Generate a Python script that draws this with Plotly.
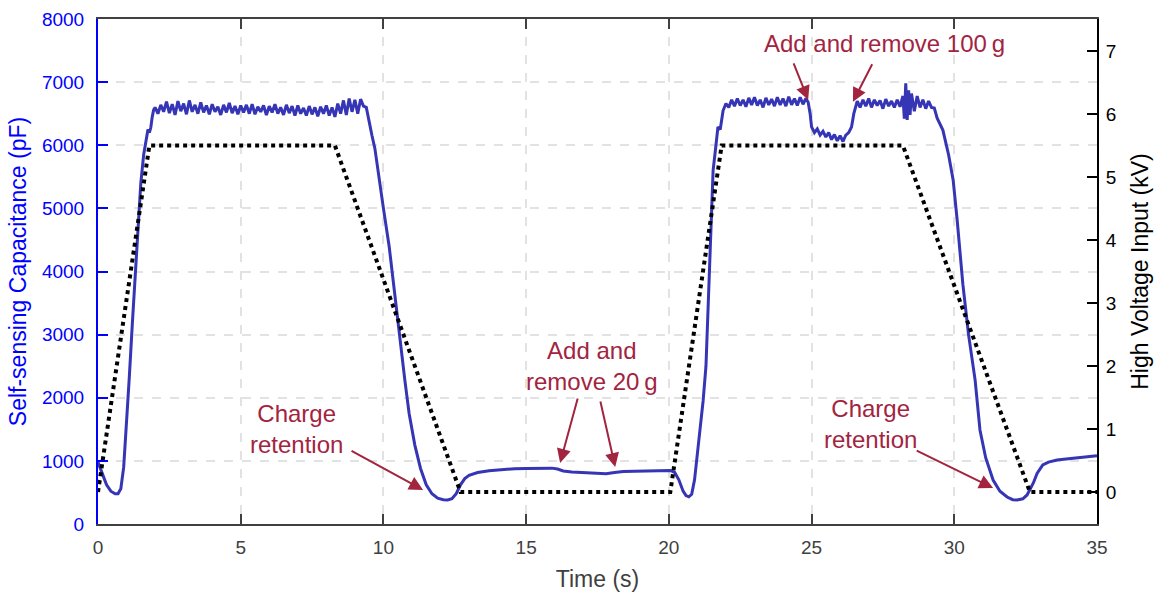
import plotly.graph_objects as go

# ---------------- data ----------------
time_cap = [0.0, 0.15, 0.3, 0.45, 0.6, 0.7, 0.8, 0.9, 1.0, 1.1, 1.2, 1.3, 1.4, 1.5, 1.6, 1.7, 1.75, 1.8, 1.85, 1.9, 1.95,
            2.0, 2.1, 2.2, 2.3, 2.4, 2.5, 2.6, 2.7, 2.8, 2.9, 3.0, 3.1, 3.2, 3.3, 3.4, 3.5, 3.6, 3.7, 3.8, 3.9,
            4.0, 4.1, 4.2, 4.3, 4.4, 4.5, 4.6, 4.7, 4.8, 4.9, 5.0, 5.1, 5.2, 5.3, 5.4, 5.5, 5.6, 5.7, 5.8, 5.9,
            6.0, 6.1, 6.2, 6.3, 6.4, 6.5, 6.6, 6.7, 6.8, 6.9, 7.0, 7.1, 7.2, 7.3, 7.4, 7.5, 7.6, 7.7, 7.8, 7.9,
            8.0, 8.1, 8.2, 8.3, 8.4, 8.5, 8.6, 8.7, 8.8, 8.9, 9.0, 9.1, 9.2, 9.3, 9.4,
            9.5, 9.6, 9.7, 9.8, 9.9, 10.0, 10.2, 10.4, 10.6, 10.75, 10.9, 11.1, 11.3, 11.5, 11.7, 11.9, 12.1, 12.25,
            12.4, 12.55, 12.7, 12.85, 13.0, 13.3, 13.7, 14.2, 14.6, 15.0, 15.5, 15.9, 16.1, 16.3, 16.6, 17.0, 17.5,
            17.8, 18.1, 18.4, 18.8, 19.3, 19.8, 20.05, 20.2, 20.35, 20.5, 20.6, 20.7, 20.8, 20.9, 21.0, 21.1, 21.2,
            21.3, 21.4, 21.5, 21.55, 21.65, 21.72, 21.8, 21.9, 22.0,
            22.1, 22.2, 22.3, 22.4, 22.5, 22.6, 22.7, 22.8, 22.9, 23.0, 23.1, 23.2, 23.3, 23.4, 23.5, 23.6, 23.7,
            23.8, 23.9, 24.0, 24.1, 24.2, 24.3, 24.4, 24.5, 24.6, 24.7, 24.8, 24.88, 24.95,
            25.0, 25.1, 25.2, 25.3, 25.4, 25.5, 25.6, 25.7, 25.8, 25.9, 26.0, 26.1, 26.2, 26.3, 26.4, 26.48, 26.55,
            26.6, 26.7, 26.8, 26.9, 27.0, 27.1, 27.2, 27.3, 27.4, 27.5, 27.6, 27.7, 27.8, 27.9, 28.0, 28.1, 28.2,
            28.25, 28.3, 28.35, 28.4, 28.45, 28.5, 28.6, 28.7, 28.8, 28.9, 29.0, 29.1, 29.2, 29.3, 29.4, 29.5,
            29.6, 29.8, 29.96, 30.1, 30.3, 30.5, 30.73, 30.9, 31.1, 31.36, 31.6, 31.85, 32.05, 32.2, 32.4, 32.55,
            32.65, 32.77, 32.9, 33.1, 33.3, 33.6, 34.0, 34.5, 35.0]

capacitance = [980, 800, 620, 520, 478, 480, 560, 900, 1550, 2350, 3150, 3950, 4700, 5400, 5850, 6100, 6250, 6200, 6280, 6450, 6560,
               6600, 6500, 6640, 6530, 6690, 6510, 6650, 6480, 6700, 6540,
               6660, 6490, 6710, 6530, 6640, 6500, 6680, 6520, 6630, 6490,
               6650, 6530, 6610, 6480, 6640, 6520, 6670, 6510, 6620, 6490,
               6630, 6520, 6640, 6500, 6650, 6490, 6610, 6530, 6630, 6480,
               6620, 6520, 6650, 6500, 6600, 6480, 6640, 6510, 6620, 6470,
               6630, 6500, 6590, 6470, 6620, 6490, 6600, 6460, 6610, 6500,
               6630, 6470, 6600, 6450, 6660, 6500, 6710, 6480, 6740, 6530,
               6720, 6500, 6730, 6620, 6600,
               6350, 6150, 5950, 5610, 5300, 5000, 4400, 3600, 2800, 2280, 1750, 1250, 880, 620, 480, 410, 385, 380,
               400, 480, 620, 720, 770, 815, 845, 865, 875, 880, 888, 885, 870, 840, 825, 815, 800,
               795, 815, 830, 835, 840, 845, 848, 820, 700, 520, 450, 430, 470, 700, 1100, 1490, 1950,
               2500, 3700, 4900, 5600, 6000, 6290, 6250, 6550, 6660,
               6600, 6720, 6620, 6740, 6630, 6720, 6610, 6750, 6640, 6760, 6630, 6720, 6600, 6750, 6640, 6730, 6620,
               6760, 6640, 6740, 6620, 6770, 6640, 6740, 6630, 6760, 6650, 6740, 6680, 6500,
               6290, 6200, 6260, 6160, 6220, 6130, 6200, 6090, 6170, 6070, 6150, 6060, 6160, 6200, 6290, 6500, 6600,
               6700, 6600, 6720, 6620, 6740, 6600, 6720, 6630, 6710, 6580, 6730, 6620, 6700, 6600, 6720, 6610, 6780,
               6420, 6980, 6400, 6870, 6480, 6820, 6540, 6780, 6600, 6720, 6580, 6700, 6600, 6590, 6430, 6320,
               6240, 5850, 5450, 4820, 3800, 3000, 2280, 1490, 1050, 697, 520, 428, 385, 380, 400, 460,
               540, 650, 800, 935, 980, 1014, 1035, 1055, 1080]

time_hv = [0.0, 1.8, 8.3, 12.7, 20.05, 21.85, 28.2, 32.65, 35.0]
voltage_kv = [0.0, 5.5, 5.5, 0.0, 0.0, 5.5, 5.5, 0.0, 0.0]

x_ticks = [0, 5, 10, 15, 20, 25, 30, 35]
y_ticks = [0, 1000, 2000, 3000, 4000, 5000, 6000, 7000, 8000]
y2_ticks = [0, 1, 2, 3, 4, 5, 6, 7]

# annotation texts and anchor points (data coordinates)
label_texts = ["Charge<br>retention", "Add and<br>remove 20\u2009g", "Add and remove 100\u2009g", "Charge<br>retention"]
label_t = [6.97, 17.31, 27.54, 27.05]
label_v = [1506, 2504, 7607, 1585]

arrow_tip_t = [11.39, 16.19, 18.12, 24.88, 26.45, 31.36]
arrow_tip_v = [539, 967, 903, 6720, 6688, 570]
arrow_tail_t = [8.83, 16.82, 17.59, 24.35, 27.15, 28.63]
arrow_tail_v = [1173, 2013, 1965, 7322, 7306, 1173]

# ---------------- figure ----------------
FONT = "Liberation Sans, Arial, sans-serif"
BLUE = "#0000FF"
LINE_BLUE = "#3535B5"
RED = "#A3243F"
GREY = "#404040"

fig = go.Figure()
fig.add_trace(go.Scatter(x=time_cap, y=capacitance, mode="lines",
                         line=dict(color=LINE_BLUE, width=3), yaxis="y", hoverinfo="skip"))
fig.add_trace(go.Scatter(x=time_hv, y=voltage_kv, mode="lines",
                         line=dict(color="black", width=4, dash="dot"), yaxis="y2", hoverinfo="skip"))

annotations = []
for txt, t, v in zip(label_texts, label_t, label_v):
    annotations.append(dict(x=t, y=v, xref="x", yref="y", text=txt, showarrow=False,
                            font=dict(family=FONT, size=24, color=RED), align="center"))
for tt, tv, at, av in zip(arrow_tip_t, arrow_tip_v, arrow_tail_t, arrow_tail_v):
    annotations.append(dict(x=tt, y=tv, xref="x", yref="y", ax=at, ay=av, axref="x", ayref="y",
                            text="", showarrow=True, arrowhead=2, arrowsize=1.4, arrowwidth=2,
                            arrowcolor=RED, standoff=0, startstandoff=0))

fig.update_layout(
    width=1161, height=596,
    margin=dict(l=98, r=64, t=19, b=72, autoexpand=False),
    paper_bgcolor="white", plot_bgcolor="white",
    showlegend=False,
    font=dict(family=FONT),
    annotations=annotations,
    xaxis=dict(range=[0, 35], tickvals=x_ticks, ticktext=[str(v) for v in x_ticks],
               showline=True, linecolor=GREY, linewidth=2, mirror="ticks",
               ticks="inside", ticklen=10, tickwidth=1.5, tickcolor=GREY, ticklabelstandoff=5,
               showgrid=True, gridcolor="#E2E2E2", gridwidth=1.5, griddash="dash",
               zeroline=False, automargin=False, tickfont=dict(size=19, color=GREY, family=FONT),
               title=dict(text="Time (s)", font=dict(size=23, color=GREY, family=FONT), standoff=14)),
    yaxis=dict(range=[0, 8000], tickvals=y_ticks, ticktext=[str(v) for v in y_ticks],
               showline=True, linecolor=BLUE, linewidth=2, mirror=False,
               ticks="inside", ticklen=10, tickwidth=1.5, tickcolor=BLUE, ticklabelstandoff=8,
               showgrid=True, gridcolor="#E2E2E2", gridwidth=1.5, griddash="dash",
               zeroline=False, automargin=False, tickfont=dict(size=19, color=BLUE, family=FONT),
               title=dict(text="Self-sensing Capacitance (pF)", font=dict(size=23, color=BLUE, family=FONT), standoff=9)),
    yaxis2=dict(range=[-0.508, 7.509], tickvals=y2_ticks, ticktext=[str(v) for v in y2_ticks],
                overlaying="y", side="right",
                showline=True, linecolor="black", linewidth=2,
                ticks="inside", ticklen=10, tickwidth=1.5, tickcolor="black", ticklabelstandoff=3,
                showgrid=False, zeroline=False, automargin=False,
                tickfont=dict(size=19, color="black", family=FONT),
                title=dict(text="High Voltage Input (kV)", font=dict(size=23, color="black", family=FONT), standoff=16)),
)

fig.write_html("out.html", config={"displayModeBar": False},
               post_script="document.body.style.margin='0';")
